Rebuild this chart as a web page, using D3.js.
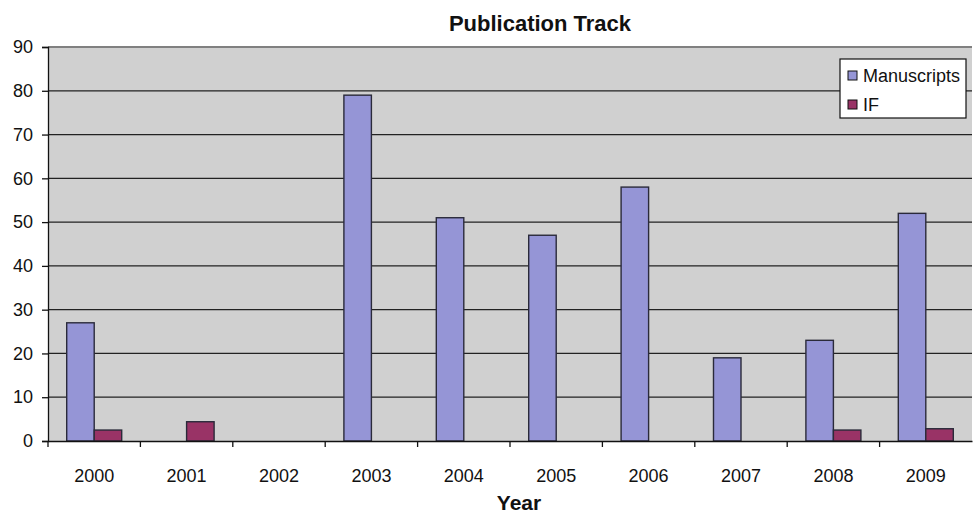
<!DOCTYPE html>
<html>
<head>
<meta charset="utf-8">
<script src="https://cdn.jsdelivr.net/npm/d3@7"></script>
<style>
  body { margin: 0; background: #fff; }
  svg { font-family: "Liberation Sans", Arial, sans-serif; }
</style>
</head>
<body>
<div id="chart"></div>
<script>
const years = ["2000", "2001", "2002", "2003", "2004", "2005", "2006", "2007", "2008", "2009"];
const manuscripts = [27, 0, 0, 79, 51, 47, 58, 19, 23, 52];
const impactFactor = [2.5, 4.4, 0, 0, 0, 0, 0, 0, 2.5, 2.8];
const seriesNames = ["Manuscripts", "IF"];
const yTicks = [0, 10, 20, 30, 40, 50, 60, 70, 80, 90];

const width = 973, height = 514;
const margin = { top: 47, right: 1, bottom: 73, left: 48 };

const color = d3.scaleOrdinal(seriesNames, ["#9595d6", "#993366"]);

const rows = years.map((y, i) => ({ year: y, Manuscripts: manuscripts[i], IF: impactFactor[i] }));

const svg = d3.select("#chart").append("svg")
  .attr("width", width)
  .attr("height", height);

const x = d3.scaleBand()
  .domain(years)
  .range([margin.left, width - margin.right])
  .paddingInner(0)
  .paddingOuter(0);

const xInner = d3.scaleBand()
  .domain(seriesNames)
  .range([0, x.bandwidth()])
  .paddingOuter(0.68)
  .paddingInner(0);

const y = d3.scaleLinear()
  .domain([0, 90])
  .range([height - margin.bottom, margin.top]);

// plot background
svg.append("rect")
  .attr("x", margin.left)
  .attr("y", margin.top)
  .attr("width", width - margin.left - margin.right)
  .attr("height", y(0) - margin.top)
  .attr("fill", "#d0d0d0");

// grid lines
svg.append("g")
  .selectAll("line")
  .data(yTicks.filter(d => d > 0))
  .join("line")
    .attr("x1", margin.left)
    .attr("x2", width - margin.right)
    .attr("y1", d => y(d))
    .attr("y2", d => y(d))
    .attr("stroke", d => d === 90 ? "#808080" : "#222")
    .attr("stroke-width", d => d === 90 ? 2 : 1.3);

// bars
svg.append("g")
  .selectAll("g")
  .data(rows)
  .join("g")
    .attr("transform", d => `translate(${x(d.year)},0)`)
  .selectAll("rect")
  .data(d => seriesNames.map(k => ({ key: k, value: d[k] })).filter(d => d.value > 0))
  .join("rect")
    .attr("x", d => xInner(d.key))
    .attr("y", d => y(d.value))
    .attr("width", xInner.bandwidth())
    .attr("height", d => y(0) - y(d.value))
    .attr("fill", d => color(d.key))
    .attr("stroke", "#2a2a3a")
    .attr("stroke-width", 1.4);

// y axis
const yAxis = svg.append("g")
  .attr("transform", `translate(${margin.left},0)`)
  .call(d3.axisLeft(y).tickValues(yTicks).tickSize(6).tickPadding(9));
yAxis.select(".domain").attr("stroke", "#111").attr("stroke-width", 1.3);
yAxis.selectAll(".tick line").attr("stroke", "#111").attr("stroke-width", 1.3);
yAxis.selectAll("text").attr("font-size", 18).attr("fill", "#111").attr("font-family", "Liberation Sans, Arial, sans-serif");

// x axis
const xAxis = svg.append("g")
  .attr("transform", `translate(0,${y(0)})`)
  .call(d3.axisBottom(x).tickSize(0).tickPadding(28));
xAxis.select(".domain").attr("stroke", "#111").attr("stroke-width", 1.3);
xAxis.selectAll("text").attr("font-size", 18).attr("fill", "#111").attr("font-family", "Liberation Sans, Arial, sans-serif");

// x category boundary ticks
xAxis.append("g")
  .selectAll("line")
  .data(years)
  .join("line")
    .attr("x1", d => x(d))
    .attr("x2", d => x(d))
    .attr("y1", 0)
    .attr("y2", 6)
    .attr("stroke", "#111")
    .attr("stroke-width", 1.3);

// title
svg.append("text")
  .attr("x", 540)
  .attr("y", 31)
  .attr("text-anchor", "middle")
  .attr("font-size", 22)
  .attr("font-weight", "bold")
  .attr("fill", "#111")
  .text("Publication Track");

// axis title
svg.append("text")
  .attr("x", 519)
  .attr("y", 510)
  .attr("text-anchor", "middle")
  .attr("font-size", 21)
  .attr("font-weight", "bold")
  .attr("fill", "#111")
  .text("Year");

// legend
const legend = svg.append("g").attr("transform", "translate(840,59)");
legend.append("rect")
  .attr("width", 126)
  .attr("height", 59)
  .attr("fill", "#fff")
  .attr("stroke", "#111")
  .attr("stroke-width", 1.2);
const item = legend.selectAll("g")
  .data(seriesNames)
  .join("g")
    .attr("transform", (d, i) => `translate(8,${16.5 + i * 29})`);
item.append("rect")
  .attr("x", 0)
  .attr("y", -4.5)
  .attr("width", 9)
  .attr("height", 9)
  .attr("fill", d => color(d))
  .attr("stroke", "#111")
  .attr("stroke-width", 1);
item.append("text")
  .attr("x", 15)
  .attr("y", 6.5)
  .attr("font-size", 18)
  .attr("fill", "#111")
  .text(d => d);
</script>
</body>
</html>
